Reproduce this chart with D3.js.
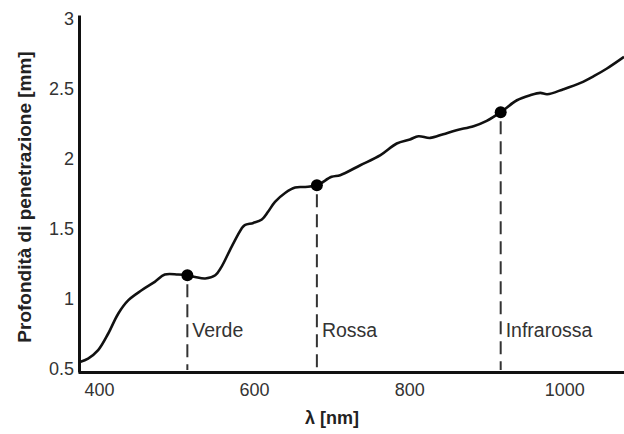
<!DOCTYPE html>
<html>
<head>
<meta charset="utf-8">
<script src="https://cdn.jsdelivr.net/npm/d3@7"></script>
<style>
  body { margin: 0; background: #fff; }
  svg { display: block; font-family: "Liberation Sans", Arial, sans-serif; }
</style>
</head>
<body>
<svg id="penetration_chart" width="624" height="434"></svg>
<script>
//  data
const wavelengths = [375.5, 386, 399, 412, 425, 438, 455, 472, 485, 502, 514, 524, 537, 550, 558, 571,
  584, 588, 599, 610, 618, 627, 640, 653, 666, 681, 700, 711, 737, 763, 784, 801, 812, 827, 844,
  861, 883, 900, 918, 939, 956, 969, 978, 999, 1021, 1038, 1055, 1077];
const depths = [0.552, 0.576, 0.636, 0.755, 0.898, 0.993, 1.064, 1.124, 1.176, 1.176, 1.171, 1.159,
  1.148, 1.171, 1.231, 1.374, 1.505, 1.529, 1.545, 1.569, 1.624, 1.695, 1.759, 1.798, 1.802, 1.814,
  1.874, 1.886, 1.957, 2.029, 2.112, 2.141, 2.164, 2.152, 2.179, 2.207, 2.236, 2.274, 2.336, 2.421,
  2.457, 2.474, 2.464, 2.5, 2.545, 2.593, 2.648, 2.731];

const laser_names = ["Verde", "Rossa", "Infrarossa"];
const laser_wavelengths = [514, 681, 918];
const laser_depths = [1.171, 1.814, 2.336];

const x_ticks = [400, 600, 800, 1000];
const y_ticks = [0.5, 1, 1.5, 2, 2.5, 3];

//  draw
function draw_penetration_chart() {
  const margin = ({top: 15, right: 0, bottom: 62, left: 78});

  const svg = d3.select("#penetration_chart");
  const w = +svg.attr("width");
  const h = +svg.attr("height");

  const x = d3.scaleLinear().domain([373, 1077]).range([margin.left, w - margin.right]);
  const y = d3.scaleLinear().domain([0.48, 3.03]).range([h - margin.bottom, margin.top]);

  const xAxis = g => g
    .attr("transform", `translate(0,${h - margin.bottom})`)
    .call(d3.axisBottom(x).tickValues(x_ticks).tickSize(0).tickSizeOuter(0).tickPadding(11)
      .tickFormat(d3.format("d")))

  const yAxis = g => g
    .attr("transform", `translate(${margin.left + 1},0)`)
    .call(d3.axisLeft(y).tickValues(y_ticks).tickSize(0).tickSizeOuter(0).tickPadding(5)
      .tickFormat(d3.format("")))

  const style_axis = g => {
    g.select(".domain").attr("stroke", "#111").attr("stroke-width", 3);
    g.selectAll(".tick text").attr("fill", "#333").attr("font-size", 18)
      .attr("font-family", "Liberation Sans, Arial, sans-serif");
  }

  svg.append("g").call(xAxis).call(style_axis);
  svg.append("g").call(yAxis).call(style_axis);

  //  dashed drop lines
  svg.append("g")
    .selectAll("line")
    .data(laser_wavelengths)
    .join("line")
      .attr("x1", d => x(d))
      .attr("x2", d => x(d))
      .attr("y1", (d, i) => y(laser_depths[i]))
      .attr("y2", h - margin.bottom - 2)
      .attr("stroke", "#333")
      .attr("stroke-width", 2)
      .attr("stroke-dasharray", "13,7")
      .attr("stroke-dashoffset", -9);

  //  curve
  svg.append("path")
    .datum(d3.zip(wavelengths, depths))
    .attr("fill", "none")
    .attr("stroke", "#111")
    .attr("stroke-width", 2.6)
    .attr("stroke-linejoin", "round")
    .attr("d", d3.line()
      .curve(d3.curveCatmullRom.alpha(0.5))
      .x(d => x(d[0]))
      .y(d => y(d[1])));

  //  markers
  svg.append("g")
    .selectAll("circle")
    .data(laser_wavelengths)
    .join("circle")
      .attr("cx", d => x(d))
      .attr("cy", (d, i) => y(laser_depths[i]))
      .attr("r", 6)
      .attr("fill", "#000");

  svg.append("g")
    .selectAll("text")
    .data(laser_names)
    .join("text")
      .attr("x", (d, i) => x(laser_wavelengths[i]) + 5)
      .attr("y", 337)
      .attr("fill", "#333")
      .attr("font-size", 19.5)
      .text(d => d);

  //  axis titles
  svg.append("text")
    .attr("x", 332)
    .attr("y", 424)
    .attr("text-anchor", "middle")
    .attr("font-weight", "bold")
    .attr("font-size", 18)
    .attr("fill", "#222")
    .text("λ [nm]");

  svg.append("text")
    .attr("transform", "translate(31,197) rotate(-90)")
    .attr("text-anchor", "middle")
    .attr("font-weight", "bold")
    .attr("font-size", 19)
    .attr("fill", "#222")
    .text("Profondità di penetrazione [mm]");
}

//  main
draw_penetration_chart();
</script>
</body>
</html>
